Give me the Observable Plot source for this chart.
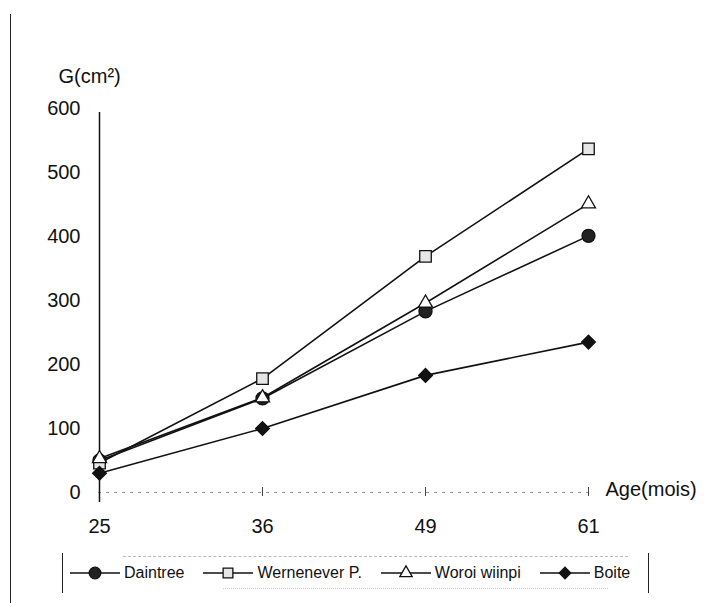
<!DOCTYPE html>
<html>
<head>
<meta charset="utf-8">
<script src="https://cdn.jsdelivr.net/npm/d3@7"></script>
<script src="https://cdn.jsdelivr.net/npm/@observablehq/plot@0.6"></script>
<style>
  html, body { margin: 0; padding: 0; background: #fff; }
  #wrap { position: relative; width: 715px; height: 603px; font-family: "Liberation Sans", Arial, sans-serif; }
  #frame { position: absolute; left: 10px; top: 14px; bottom: 0; border-left: 1.5px solid #222; }
  #chart { position: absolute; left: 0; top: 0; }
  #legend { position: absolute; left: 62px; top: 553px; width: 585px; height: 40px;
    border-left: 1.5px solid #222; border-right: 1.5px solid #222;
    display: flex; align-items: center; font-family: "Liberation Sans Narrow", "Liberation Sans", Arial, sans-serif;
    font-size: 16px; color: #111; }
  #legend::before { content: ""; position: absolute; left: 60px; right: 20px; top: 3px; border-top: 1px dashed #bbb; }
  #legend::after { content: ""; position: absolute; left: 160px; right: 40px; bottom: 4px; border-top: 1px dotted #ccc; }
  .item { display: flex; align-items: center; margin-left: 7px; margin-right: 12px; }
  .item svg { display: block; margin-right: 4px; }
</style>
</head>
<body>
<div id="wrap">
  <div id="frame"></div>
  <div id="chart"></div>
  <div id="legend"></div>
</div>
<script>
const ages = [25, 36, 49, 61];
const seriesNames = ["Daintree", "Wernenever P.", "Woroi wiinpi", "Boite"];
const daintree = [50, 147, 283, 401];
const wernenever = [46, 178, 369, 537];
const woroi = [53, 148, 296, 451];
const boite = [30, 100, 183, 235];
const yTicks = [0, 100, 200, 300, 400, 500, 600];

const symbols = ["circle", "square", "triangle", "diamond2"];
const fills = ["#222", "#e6e6e6", "#fff", "#111"];
const sizes = [6.5, 6.5, 5.2, 6.2];

const allSeries = [daintree, wernenever, woroi, boite];
const data = [];
allSeries.forEach((vals, i) => {
  vals.forEach((v, j) => data.push({series: seriesNames[i], age: ages[j], g: v}));
});

const dotMarks = seriesNames.map((name, i) =>
  Plot.dot(data.filter(d => d.series === name), {
    x: "age", y: "g", symbol: "series", fill: "series", stroke: "#111", strokeWidth: 1.3, r: sizes[i]
  })
);

const chart = Plot.plot({
  width: 715,
  height: 545,
  marginLeft: 98,
  marginRight: 127,
  marginTop: 108,
  marginBottom: 53,
  style: {fontFamily: "'Liberation Sans', Arial, sans-serif", fontSize: "20px", color: "#111", background: "transparent"},
  x: {type: "point", domain: ages, padding: 0},
  y: {type: "linear", domain: [0, 600]},
  symbol: {domain: seriesNames, range: symbols},
  color: {domain: seriesNames, range: fills},
  marks: [
    Plot.axisY({ticks: yTicks, tickSize: 0, tickPadding: 18, label: null, fontSize: 20}),
    Plot.axisX({ticks: ages, tickSize: 0, tickPadding: 26, label: null, fontSize: 20}),
    Plot.ruleY([0], {stroke: "#999", strokeDasharray: "3,5", strokeWidth: 1}),
    Plot.ruleX(ages.slice(1), {x: d => d, y1: 0, y2: 0, stroke: "#444", insetTop: -5, insetBottom: -4}),
    Plot.ruleX([ages[0]], {stroke: "#111", strokeWidth: 1.5, insetBottom: -10, insetTop: 4}),
    Plot.line(data, {x: "age", y: "g", z: "series", stroke: "#111", strokeWidth: 1.6}),
    ...dotMarks,
    Plot.text(["G(cm²)"], {frameAnchor: "top-left", dx: -40, dy: -40, textAnchor: "start", fontSize: 20}),
    Plot.text(["Age(mois)"], {frameAnchor: "bottom-right", dx: 17, dy: 3, textAnchor: "start", fontSize: 20})
  ]
});
document.getElementById("chart").appendChild(chart);

// Legend
const legend = d3.select("#legend");
const legendSizes = [5.8, 5.5, 4.6, 5.2];
seriesNames.forEach((name, i) => {
  const item = legend.append("div").attr("class", "item");
  const svg = item.append("svg").attr("width", 50).attr("height", 20);
  svg.append("line").attr("x1", 0).attr("x2", 50).attr("y1", 10).attr("y2", 10)
    .attr("stroke", "#111").attr("stroke-width", 1.5);
  const sym = {circle: d3.symbolCircle, square: d3.symbolSquare, triangle: d3.symbolTriangle, diamond2: d3.symbolDiamond2}[symbols[i]];
  svg.append("path").attr("d", d3.symbol(sym, legendSizes[i] * legendSizes[i] * Math.PI)())
    .attr("transform", "translate(25,10)")
    .attr("fill", fills[i]).attr("stroke", "#111").attr("stroke-width", 1.3);
  item.append("span").text(name);
});
</script>
</body>
</html>
